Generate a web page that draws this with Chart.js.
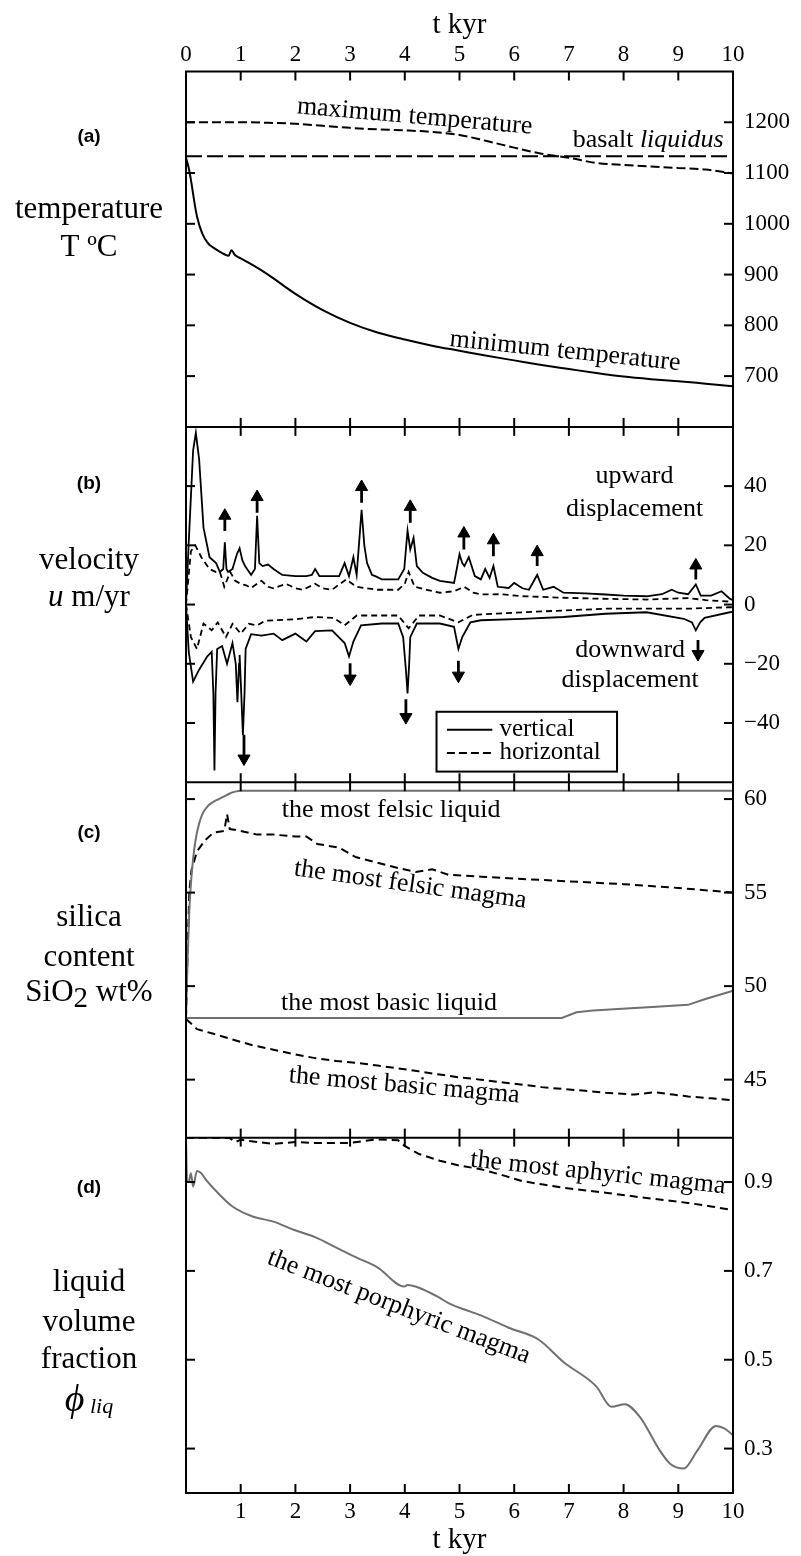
<!DOCTYPE html>
<html>
<head>
<meta charset="utf-8">
<script src="https://cdn.jsdelivr.net/npm/chart.js@4.4.1/dist/chart.umd.min.js"></script>
<style>
  html, body { margin: 0; padding: 0; background: #fff; }
  #wrap { width: 801px; height: 1556px; position: relative; }
</style>
</head>
<body>
<div id="wrap"><canvas id="fig" width="801" height="1556"></canvas></div>
<script>
// ---- axis ticks ----
const tickT = [0, 1, 2, 3, 4, 5, 6, 7, 8, 9, 10];
const ticksTemp = [700, 800, 900, 1000, 1100, 1200];
const ticksVel = [-40, -20, 0, 20, 40];
const ticksSil = [45, 50, 55, 60];
const ticksLiq = [0.3, 0.5, 0.7, 0.9];

// ---- (a) temperature ----
const maxTempT = [0, 0.5, 1, 1.5, 2, 2.5, 3, 3.5, 4, 4.5, 5, 5.5, 6, 6.5, 7, 7.5, 8, 8.5, 9, 9.5, 10];
const maxTempV = [1200, 1200, 1200, 1199, 1197, 1193, 1189, 1186, 1184, 1181, 1175, 1163, 1150, 1138, 1130, 1120, 1116, 1113, 1110, 1107, 1099];
const liquidusT = [0, 10];
const liquidusV = [1133, 1133];
const minTempT = [0, 0.05, 0.1, 0.15, 0.2, 0.3, 0.4, 0.5, 0.6, 0.7, 0.78, 0.83, 0.9, 1.0, 1.2, 1.5, 2.0, 2.5, 3.0, 3.5, 4.0, 4.5, 5.0, 5.5, 6.0, 6.5, 7.0, 7.5, 8.0, 8.5, 9.0, 9.5, 10];
const minTempV = [1130, 1110, 1080, 1045, 1015, 980, 962, 953, 946, 940, 937, 948, 938, 932, 920, 900, 862, 830, 805, 786, 772, 760, 750, 740, 731, 722, 714, 706, 699, 694, 690, 685, 680];

// ---- (b) velocity ----
const vertUpT = [0, 0.05, 0.13, 0.18, 0.24, 0.32, 0.43, 0.55, 0.62, 0.68, 0.71, 0.74, 0.77, 0.85, 0.93, 0.98, 1.03, 1.08, 1.19, 1.26, 1.3, 1.34, 1.4, 1.5, 1.6, 1.76, 2.0, 2.2, 2.3, 2.36, 2.44, 2.8, 2.9, 2.98, 3.06, 3.12, 3.21, 3.26, 3.31, 3.4, 3.46, 3.58, 3.88, 3.99, 4.05, 4.1, 4.16, 4.22, 4.33, 4.5, 4.64, 4.9, 4.95, 5.0, 5.05, 5.09, 5.17, 5.28, 5.39, 5.47, 5.55, 5.62, 5.7, 5.9, 6.0, 6.15, 6.27, 6.42, 6.53, 6.72, 6.9, 7.3, 7.67, 8.0, 8.42, 8.7, 8.88, 9.0, 9.18, 9.32, 9.41, 9.6, 9.79, 9.94, 10];
const vertUpV = [0, 21, 52, 58, 49, 26, 16, 14, 11, 12, 21, 12, 11, 12, 17, 19, 15, 13, 10, 12, 30, 14, 13, 13.5, 12, 10, 9.6, 9.6, 10, 12, 9.6, 9.6, 14, 9.6, 16, 10, 32, 20, 14, 10, 9.6, 8.5, 8.5, 12, 25, 18.6, 22.5, 13, 10.7, 9, 8, 7.3, 12, 17, 14, 13, 16, 9.6, 8.5, 12, 9, 13, 6, 5.6, 7.3, 5.5, 5, 10, 5, 6, 4, 3.8, 3.4, 3.0, 2.8, 3.5, 5, 4, 3.5, 6.8, 3, 3, 4.5, 2, 1.5];
const horizUpT = [0, 0.09, 0.17, 0.28, 0.43, 0.55, 0.62, 0.7, 0.81, 0.9, 1.0, 1.1, 1.19, 1.3, 1.38, 1.5, 1.6, 1.83, 2.0, 2.14, 2.36, 2.5, 2.67, 2.93, 3.12, 3.3, 3.5, 3.88, 4.0, 4.07, 4.18, 4.4, 4.64, 4.9, 5.09, 5.25, 5.39, 5.76, 6.15, 6.5, 6.9, 7.5, 8.42, 9.18, 9.5, 9.94, 10];
const horizUpV = [0, 18, 20, 16, 12, 11, 11, 6, 11, 8, 7, 6.5, 5.6, 7, 8, 6, 5.5, 7, 5.5, 5, 7, 5.5, 5, 8.5, 6, 5.5, 5, 5, 7, 11, 6, 5, 4, 4.5, 6, 4, 3.4, 3.5, 2.8, 2.6, 2.3, 2, 1.7, 2.2, 1.5, 1, 1];
const vertDownT = [0, 0.05, 0.13, 0.24, 0.39, 0.47, 0.5, 0.52, 0.54, 0.57, 0.66, 0.75, 0.85, 0.91, 0.94, 0.97, 0.98, 1.01, 1.04, 1.07, 1.09, 1.19, 1.38, 1.6, 1.76, 2.0, 2.2, 2.36, 2.67, 2.9, 2.98, 3.06, 3.2, 3.58, 3.88, 3.97, 4.02, 4.05, 4.08, 4.1, 4.22, 4.64, 4.9, 4.98, 5.05, 5.2, 5.39, 6.15, 6.9, 7.67, 8.42, 9.1, 9.25, 9.32, 9.4, 9.48, 9.94, 10];
const vertDownV = [0, -16, -26, -22, -17.5, -16, -30, -56, -30, -15, -14, -20, -13, -20, -33, -20, -17, -30, -44, -30, -15, -10, -10.5, -9.8, -12, -9.8, -12.5, -9, -8.7, -13, -17.5, -12.5, -7, -6.4, -6.4, -11, -22, -30, -20, -11, -6.4, -6.4, -7.5, -15, -11, -6, -5.3, -4.8, -4.2, -3.1, -2.6, -4.8, -6, -8.7, -6, -4.5, -2.6, -2.5];
const horizDownT = [0, 0.09, 0.2, 0.32, 0.47, 0.58, 0.73, 0.85, 1.0, 1.15, 1.3, 1.45, 1.6, 2.0, 2.36, 2.7, 2.9, 3.12, 3.88, 4.07, 4.26, 4.64, 4.98, 5.24, 6.15, 7.67, 9.18, 9.94, 10];
const horizDownV = [0, -11, -15, -6.4, -8.7, -6, -11, -6.5, -9.8, -6.5, -7, -5.5, -5.3, -5, -4.2, -4.5, -7, -3.7, -3.7, -8, -3.7, -3.7, -6, -3.5, -2.6, -1.4, -1.4, -0.9, -0.9];
const upArrowT = [0.71, 1.3, 3.21, 4.1, 5.08, 5.62, 6.42, 9.32];
const upArrowFrom = [24.8, 31, 34.4, 27.6, 18.6, 16.3, 13, 8.5];
const upArrowTo = [30, 36.3, 39.7, 33, 24, 21.7, 17.7, 13.2];
const downArrowT = [1.06, 3.0, 4.02, 4.98, 9.36];
const downArrowFrom = [-44, -19.8, -32, -19, -12];
const downArrowTo = [-52, -25, -38, -24, -16.7];

// ---- (c) silica ----
const felsicLiqT = [0, 0.03, 0.06, 0.09, 0.13, 0.18, 0.24, 0.3, 0.39, 0.5, 0.6, 0.7, 0.8, 0.9, 1.0, 10];
const felsicLiqV = [48.3, 51.5, 54, 55.5, 56.8, 57.9, 58.7, 59.2, 59.6, 59.85, 60.0, 60.15, 60.3, 60.4, 60.45, 60.45];
const felsicMagT = [0, 0.03, 0.06, 0.1, 0.2, 0.35, 0.5, 0.7, 0.75, 0.8, 1.0, 1.3, 1.6, 2.0, 2.2, 2.4, 2.8, 3.1, 3.5, 3.9, 4.2, 4.5, 4.8, 5.4, 6.0, 7.0, 8.0, 9.0, 10];
const felsicMagV = [48.3, 52, 55, 56.2, 57.2, 57.8, 58.2, 58.3, 59.2, 58.4, 58.3, 58.1, 58.1, 58.0, 58.0, 57.6, 57.4, 56.9, 56.6, 56.3, 56.1, 56.25, 55.95, 55.85, 55.75, 55.6, 55.45, 55.25, 55.0];
const basicLiqT = [0, 6.87, 7.14, 7.44, 8.05, 8.6, 9.18, 9.48, 9.94, 10];
const basicLiqV = [48.3, 48.3, 48.6, 48.7, 48.8, 48.9, 49.0, 49.3, 49.7, 49.75];
const basicMagT = [0, 0.2, 0.5, 0.85, 1.2, 1.6, 2.0, 2.36, 2.75, 3.12, 3.5, 3.88, 4.25, 4.64, 5.0, 5.39, 5.8, 6.15, 6.5, 6.9, 7.3, 7.67, 8.2, 8.58, 8.9, 9.18, 9.6, 10];
const basicMagV = [48.25, 47.7, 47.45, 47.15, 46.85, 46.6, 46.35, 46.15, 46.0, 45.9, 45.75, 45.6, 45.45, 45.27, 45.12, 45.0, 44.85, 44.73, 44.6, 44.5, 44.4, 44.3, 44.2, 44.33, 44.2, 44.1, 44.0, 43.9];

// ---- (d) liquid volume fraction ----
const aphyricT = [0, 0.5, 0.8, 0.9, 1.0, 1.3, 1.6, 2.0, 2.36, 2.97, 3.5, 3.88, 3.99, 4.26, 4.64, 5.0, 5.39, 5.8, 6.15, 6.5, 6.9, 7.67, 8.42, 9.18, 9.6, 10];
const aphyricV = [1.0, 1.0, 0.999, 0.99, 0.995, 0.99, 0.986, 0.99, 0.988, 0.988, 0.996, 0.994, 0.982, 0.963, 0.948, 0.937, 0.929, 0.915, 0.902, 0.895, 0.887, 0.876, 0.864, 0.853, 0.845, 0.837];
const porphyricT = [0, 0.02, 0.05, 0.09, 0.13, 0.2, 0.28, 0.36, 0.58, 0.85, 1.23, 1.6, 1.98, 2.36, 2.74, 3.12, 3.5, 3.99, 4.05, 4.26, 4.64, 4.79, 5.0, 5.39, 5.9, 6.45, 6.9, 7.5, 7.78, 8.02, 8.3, 8.66, 8.85, 9.1, 9.35, 9.69, 9.85, 10];
const porphyricV = [1.0, 0.9, 0.9, 0.92, 0.89, 0.925, 0.92, 0.906, 0.876, 0.845, 0.822, 0.811, 0.792, 0.776, 0.753, 0.73, 0.708, 0.665, 0.668, 0.662, 0.639, 0.628, 0.617, 0.6, 0.572, 0.545, 0.495, 0.44, 0.394, 0.40, 0.371, 0.296, 0.266, 0.255, 0.296, 0.351, 0.345, 0.33];

const GRAY = '#707070';
const SERIF = "'Liberation Serif', 'Times New Roman', serif";
Chart.defaults.font.family = SERIF;
Chart.defaults.color = '#000';

function pts(ts, vs) {
  return ts.map((t, i) => ({ x: t, y: vs[i] }));
}
function stems(ts, from, to) {
  const out = [];
  ts.forEach((t, i) => { out.push({ x: t, y: from[i] }, { x: t, y: to[i] }, { x: t, y: null }); });
  return out;
}

function line(data, yAxisID, opts) {
  return Object.assign({
    type: 'line', data, yAxisID, xAxisID: 'x',
    borderColor: '#000', borderWidth: 2, pointRadius: 0, fill: false, tension: 0
  }, opts || {});
}

function yScale(min, max, ticks, weight, fmt) {
  return {
    type: 'linear', position: 'right', stack: 'panels', stackWeight: 1, weight,
    min, max,
    afterBuildTicks: s => { s.ticks = ticks.map(v => ({ value: v })); },
    afterFit: s => { s.width = 68; s.paddingTop = 0; s.paddingBottom = 0; },
    ticks: { font: { size: 23 }, color: '#000', padding: 11, callback: fmt },
    grid: { display: false, drawTicks: false },
    border: { display: false }
  };
}
const minus = v => (v < 0 ? '\u2212' + Math.abs(v) : String(v));

// side labels, annotations and legend drawn on top of the library's scales
const sideLabels = [
  { y: 137, runs: [['(a)', "bold 19px 'Liberation Sans', Arial, sans-serif"]] },
  { y: 210, runs: [['temperature', '31px ' + SERIF]] },
  { y: 248, runs: [['T \u00baC', '31px ' + SERIF]] },
  { y: 484, runs: [['(b)', "bold 19px 'Liberation Sans', Arial, sans-serif"]] },
  { y: 561, runs: [['velocity', '31px ' + SERIF]] },
  { y: 598, runs: [['u', 'italic 31px ' + SERIF], [' m/yr', '31px ' + SERIF]] },
  { y: 833, runs: [['(c)', "bold 19px 'Liberation Sans', Arial, sans-serif"]] },
  { y: 918, runs: [['silica', '31px ' + SERIF]] },
  { y: 958, runs: [['content', '31px ' + SERIF]] },
  { y: 993, runs: [['SiO', '31px ' + SERIF], ['2', '29px ' + SERIF, 6], [' wt%', '31px ' + SERIF]] },
  { y: 1188, runs: [['(d)', "bold 19px 'Liberation Sans', Arial, sans-serif"]] },
  { y: 1283, runs: [['liquid', '31px ' + SERIF]] },
  { y: 1323, runs: [['volume', '31px ' + SERIF]] },
  { y: 1360, runs: [['fraction', '31px ' + SERIF]] },
  { y: 1401, runs: [['\u03d5', 'italic 38px ' + SERIF], [' liq', 'italic 22px ' + SERIF, 6]] }
];
const notes = [
  { axis: 'yA', t: 4.18, v: 1211, rot: 5, runs: [['maximum temperature', '26px ' + SERIF]] },
  { axis: 'yA', t: 8.45, v: 1165, rot: 0, runs: [['basalt ', '26px ' + SERIF], ['liquidus', 'italic 26px ' + SERIF]] },
  { axis: 'yA', t: 6.93, v: 749, rot: 6, runs: [['minimum temperature', '26px ' + SERIF]] },
  { axis: 'yB', t: 8.2, v: 43.2, rot: 0, runs: [['upward', '26px ' + SERIF]] },
  { axis: 'yB', t: 8.2, v: 32.3, rot: 0, runs: [['displacement', '26px ' + SERIF]] },
  { axis: 'yB', t: 8.12, v: -15.3, rot: 0, runs: [['downward', '26px ' + SERIF]] },
  { axis: 'yB', t: 8.12, v: -25.5, rot: 0, runs: [['displacement', '26px ' + SERIF]] },
  { axis: 'yC', t: 3.75, v: 59.42, rot: 0, runs: [['the most felsic liquid', '26px ' + SERIF]] },
  { axis: 'yC', t: 4.1, v: 55.42, rot: 8, runs: [['the most felsic magma', '26px ' + SERIF]] },
  { axis: 'yC', t: 3.71, v: 49.11, rot: 0, runs: [['the most basic liquid', '26px ' + SERIF]] },
  { axis: 'yC', t: 3.99, v: 44.68, rot: 5, runs: [['the most basic magma', '26px ' + SERIF]] },
  { axis: 'yD', t: 7.53, v: 0.92, rot: 6, runs: [['the most aphyric magma', '26px ' + SERIF]] },
  { axis: 'yD', t: 3.89, v: 0.619, rot: 21, runs: [['the most porphyric magma', '26px ' + SERIF]] }
];
const legendItems = [
  { text: 'vertical', dash: [] },
  { text: 'horizontal', dash: [8, 4] }
];

function drawRuns(ctx, runs, cx, cy) {
  let w = 0;
  runs.forEach(r => { ctx.font = r[1]; w += ctx.measureText(r[0]).width; });
  let x = cx - w / 2;
  ctx.textAlign = 'left';
  ctx.textBaseline = 'middle';
  runs.forEach(r => {
    ctx.font = r[1];
    ctx.fillText(r[0], x, cy + (r[2] || 0));
    x += ctx.measureText(r[0]).width;
  });
}

const framePlugin = {
  id: 'framePlugin',
  afterDatasetsDraw(chart) {
    const { ctx, chartArea: ca, scales } = chart;
    const TL = 9;
    const seg = (x1, y1, x2, y2) => { ctx.beginPath(); ctx.moveTo(x1, y1); ctx.lineTo(x2, y2); ctx.stroke(); };
    ctx.save();
    ctx.strokeStyle = '#000';
    ctx.fillStyle = '#000';
    ctx.lineWidth = 2;
    ctx.setLineDash([]);
    ctx.strokeRect(ca.left, ca.top, ca.right - ca.left, ca.bottom - ca.top);
    const inner = ['yB', 'yC', 'yD'];
    inner.forEach(id => seg(ca.left, scales[id].top, ca.right, scales[id].top));
    const xs = scales.x;
    tickT.forEach(t => {
      if (t <= 0 || t >= 10) return;
      const px = xs.getPixelForValue(t);
      seg(px, ca.top, px, ca.top + TL);
      seg(px, ca.bottom, px, ca.bottom - TL);
      inner.forEach(id => seg(px, scales[id].top - TL, px, scales[id].top + TL));
    });
    [['yA', ticksTemp], ['yB', ticksVel], ['yC', ticksSil], ['yD', ticksLiq]].forEach(([id, tv]) => {
      tv.forEach(v => {
        const py = scales[id].getPixelForValue(v);
        seg(ca.left, py, ca.left + TL, py);
        seg(ca.right, py, ca.right - TL, py);
      });
    });

    // legend in panel (b)
    const yB = scales.yB;
    const lx0 = xs.getPixelForValue(4.58), lx1 = xs.getPixelForValue(7.88);
    const ly0 = yB.getPixelForValue(-36.2), ly1 = yB.getPixelForValue(-56.4);
    ctx.fillStyle = '#fff';
    ctx.fillRect(lx0, ly0, lx1 - lx0, ly1 - ly0);
    ctx.fillStyle = '#000';
    ctx.strokeRect(lx0, ly0, lx1 - lx0, ly1 - ly0);
    const rowsV = [-42.3, -50.1];
    legendItems.forEach((it, i) => {
      const py = yB.getPixelForValue(rowsV[i]);
      ctx.setLineDash(it.dash);
      seg(xs.getPixelForValue(4.77), py, xs.getPixelForValue(5.6), py);
      ctx.setLineDash([]);
      ctx.font = '25px ' + SERIF;
      ctx.textAlign = 'left';
      ctx.textBaseline = 'middle';
      ctx.fillText(it.text, xs.getPixelForValue(5.73), py);
    });

    // annotations
    notes.forEach(n => {
      const px = xs.getPixelForValue(n.t), py = scales[n.axis].getPixelForValue(n.v);
      ctx.save();
      ctx.translate(px, py);
      ctx.rotate(n.rot * Math.PI / 180);
      drawRuns(ctx, n.runs, 0, 0);
      ctx.restore();
    });

    // left-hand panel titles
    sideLabels.forEach(l => drawRuns(ctx, l.runs, 89, l.y));
    ctx.restore();
  }
};

new Chart(document.getElementById('fig'), {
  type: 'line',
  data: {
    datasets: [
      line(pts(maxTempT, maxTempV), 'yA', { borderDash: [9, 4], cubicInterpolationMode: 'monotone' }),
      line(pts(liquidusT, liquidusV), 'yA', { borderDash: [16, 5] }),
      line(pts(minTempT, minTempV), 'yA', { cubicInterpolationMode: 'monotone' }),
      line(pts(horizUpT, horizUpV), 'yB', { borderDash: [6, 4], borderWidth: 1.8 }),
      line(pts(horizDownT, horizDownV), 'yB', { borderDash: [6, 4], borderWidth: 1.8 }),
      line(pts(vertUpT, vertUpV), 'yB', { borderWidth: 1.8 }),
      line(pts(vertDownT, vertDownV), 'yB', { borderWidth: 1.8 }),
      line(stems(upArrowT, upArrowFrom, upArrowTo), 'yB', { borderWidth: 2.8, spanGaps: false }),
      line(stems(downArrowT, downArrowFrom, downArrowTo), 'yB', { borderWidth: 2.8, spanGaps: false }),
      line(pts(upArrowT, upArrowTo), 'yB', { showLine: false, pointStyle: 'triangle', pointRadius: 7, pointRotation: 0, pointBackgroundColor: '#000', pointBorderWidth: 1 }),
      line(pts(downArrowT, downArrowTo), 'yB', { showLine: false, pointStyle: 'triangle', pointRadius: 7, pointRotation: 180, pointBackgroundColor: '#000', pointBorderWidth: 1 }),
      line(pts(felsicLiqT, felsicLiqV), 'yC', { borderColor: GRAY, cubicInterpolationMode: 'monotone' }),
      line(pts(felsicMagT, felsicMagV), 'yC', { borderDash: [8, 5] }),
      line(pts(basicLiqT, basicLiqV), 'yC', { borderColor: GRAY }),
      line(pts(basicMagT, basicMagV), 'yC', { borderDash: [8, 5] }),
      line(pts(aphyricT, aphyricV), 'yD', { borderDash: [8, 5] }),
      line(pts(porphyricT, porphyricV), 'yD', { borderColor: GRAY, cubicInterpolationMode: 'monotone' })
    ]
  },
  options: {
    responsive: false,
    animation: false,
    devicePixelRatio: 1,
    layout: { padding: { left: 186, right: 0, top: 0, bottom: 0 } },
    plugins: { legend: { display: false }, tooltip: { enabled: false } },
    scales: {
      x: {
        type: 'linear', position: 'top', min: 0, max: 10,
        afterBuildTicks: s => { s.ticks = tickT.map(v => ({ value: v })); },
        afterFit: s => { s.height = 71.5; s.paddingLeft = 0; s.paddingRight = 0; },
        ticks: { font: { size: 23 }, color: '#000', padding: 3, maxRotation: 0, autoSkip: false },
        grid: { display: false, drawTicks: false },
        border: { display: false },
        title: { display: true, text: 't kyr', font: { size: 29, lineHeight: 1 }, color: '#000', padding: { top: 10.5, bottom: 0 } }
      },
      x2: {
        type: 'linear', position: 'bottom', min: 0, max: 10,
        afterBuildTicks: s => { s.ticks = tickT.map(v => ({ value: v })); },
        afterFit: s => { s.height = 63; s.paddingLeft = 0; s.paddingRight = 0; },
        ticks: { font: { size: 23 }, color: '#000', padding: 5, maxRotation: 0, autoSkip: false,
          callback: v => (v === 0 ? '' : String(v)) },
        grid: { display: false, drawTicks: false },
        border: { display: false },
        title: { display: true, text: 't kyr', font: { size: 29, lineHeight: 1 }, color: '#000', padding: { top: 0, bottom: 1.5 } }
      },
      yA: yScale(600, 1300, ticksTemp, 1, v => String(v)),
      yB: yScale(-60, 60, ticksVel, 2, minus),
      yC: yScale(41.9, 60.9, ticksSil, 3, v => String(v)),
      yD: yScale(0.2, 1.0, ticksLiq, 4, v => v.toFixed(1))
    }
  },
  plugins: [framePlugin]
});
</script>
</body>
</html>
